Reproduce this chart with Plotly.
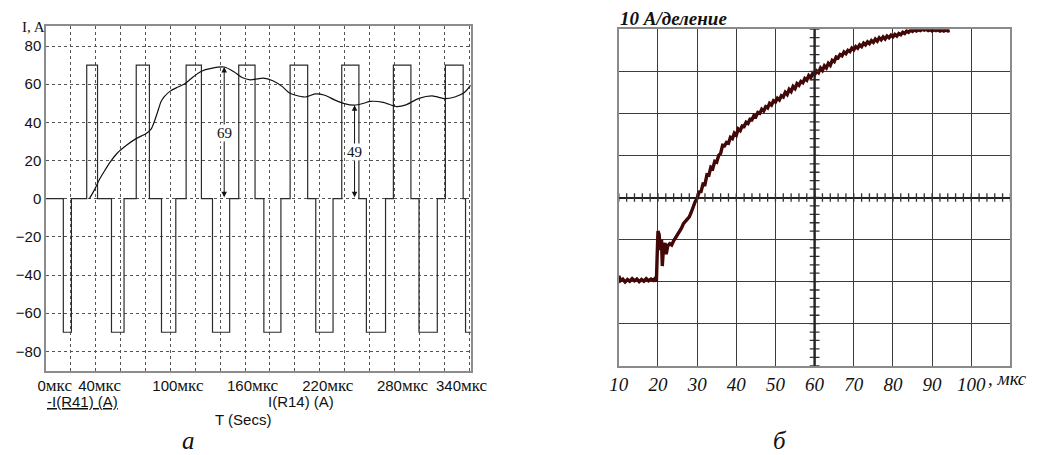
import numpy as np
import plotly.graph_objects as go

# ---------------- panel "а": simulated currents ----------------
# switching pulses of -I(R41): (start, end) in microseconds
neg_pulses = [(13.9, 20.4), (52.6, 62.7), (92.8, 104.3), (133.8, 147.6), (175.1, 188.8),
              (216.8, 230.7), (257.5, 272.9), (299.8, 314.5), (337.2, 345.0)]
pos_pulses = [(32.7, 41.4), (72.5, 83.1), (112.6, 124.9), (154.9, 168.0),
              (196.2, 210.3), (237.7, 251.5), (279.2, 293.3), (321.0, 335.3)]
pulse_level = 70

# load current I(R14)
load_t = [34.8, 38.8, 42.7, 46.6, 51.8, 57.0, 64.9, 72.7, 80.5, 84.4, 87.0, 89.7, 92.3,
          94.9, 100.1, 106.0, 111.9, 118.4, 124.9, 132.8, 143.2, 151.0, 157.5, 164.1,
          170.0, 174.5, 182.3, 190.2, 195.4, 200.6, 208.4, 216.3, 224.1, 231.9, 239.8,
          248.0, 255.4, 260.7, 271.1, 281.6, 289.4, 299.8, 310.3, 320.7, 328.6, 336.0, 341.3]
load_i = [0.0, 4.5, 9.8, 14.1, 19.4, 23.7, 28.1, 31.6, 34.2, 36.4, 40.3, 45.5, 50.7,
          53.4, 56.5, 58.5, 60.4, 63.9, 66.8, 68.3, 69.0, 66.5, 63.5, 62.3,
          62.8, 63.2, 61.8, 58.6, 55.5, 54.2, 53.3, 54.9, 54.2, 51.8, 49.8,
          49.0, 50.0, 51.0, 50.5, 48.3, 49.2, 52.6, 53.9, 52.4, 53.3, 55.5, 59.5]

# dimensioned values of the load current
marked_t = [143.2, 248.0]
marked_i = [69, 49]

time_tick_pos = [7, 43, 106, 166, 226.5, 286.5, 334]
time_tick_text = ["0", "40", "100", "160", "220", "280", "340"]

# ---------------- panel "б": measured current ----------------
meas_t = [10.0, 10.4, 11.0, 11.6, 12.2, 12.8, 13.4, 14.0, 14.6, 15.2, 15.8, 16.4, 17.0, 17.6,
          18.2, 18.8, 19.3, 19.6, 19.8, 20.0, 20.3, 20.6, 20.9, 21.1, 21.4, 21.8, 22.1, 22.5,
          23.0, 23.5, 24.0, 24.5, 25.0, 25.5, 26.0, 26.5, 27.0, 27.5, 28.0, 28.5, 29.0, 29.5,
          30.0, 30.5, 31.0, 31.5, 32.0, 32.5, 33.0, 33.5, 34.0, 34.5, 35.0, 35.5, 36.0, 36.5,
          37.0, 37.5, 38.0, 38.5, 39.0, 39.5, 40.0, 40.5, 41.0, 41.5, 42.0, 42.5, 43.0, 43.5,
          44.0, 44.5, 45.0, 45.5, 46.0, 46.5, 47.0, 47.5, 48.0, 48.5, 49.0, 49.5, 50.0, 50.5,
          51.0, 51.5, 52.0, 52.5, 53.0, 53.5, 54.0, 54.5, 55.0, 55.5, 56.0, 56.5, 57.0, 57.5,
          58.0, 58.5, 59.0, 59.5, 60.0, 60.5, 61.0, 61.5, 62.0, 62.5, 63.0, 63.5, 64.0, 64.5,
          65.0, 65.5, 66.0, 66.5, 67.0, 67.5, 68.0, 68.5, 69.0, 69.5, 70.0, 70.5, 71.0, 71.5,
          72.0, 72.5, 73.0, 73.5, 74.0, 74.5, 75.0, 75.5, 76.0, 76.5, 77.0, 77.5, 78.0, 78.5,
          79.0, 79.5, 80.0, 80.5, 81.0, 81.5, 82.0, 82.5, 83.0, 83.5, 84.0, 84.5, 85.0, 85.5,
          86.0, 86.5, 87.0, 87.5, 88.0, 88.5, 89.0, 89.5, 90.0, 90.5, 91.0, 91.5, 92.0, 92.5,
          93.0, 93.5, 94.0, 94.5]
meas_i = [-18.6, -19.8, -19.4, -20.1, -19.5, -19.9, -19.3, -19.8, -19.4, -20.0, -19.5, -19.9, -19.3, -19.8,
          -19.4, -19.7, -19.2, -20.0, -13.5, -8.0, -8.8, -12.5, -10.0, -16.3, -12.0, -10.8, -13.5, -11.5,
          -11.0, -11.3, -10.3, -9.5, -9.0, -8.0, -7.3, -6.2, -5.6, -5.3, -4.6, -3.5, -2.0, -1.0,
          -0.2, 1.3, 1.4, 3.2, 3.1, 5.4, 5.3, 7.2, 6.9, 8.6, 8.4, 10.0, 10.5, 12.4,
          12.3, 13.1, 12.9, 14.3, 14.0, 15.3, 14.8, 16.3, 15.9, 17.0, 16.9, 17.9, 17.6, 18.6,
          18.5, 19.5, 19.2, 20.2, 20.0, 21.0, 20.6, 21.6, 21.3, 22.4, 22.0, 23.0, 22.7, 23.6,
          23.2, 24.2, 23.9, 25.0, 24.5, 25.7, 25.2, 26.4, 25.9, 27.1, 26.7, 27.6, 27.3, 28.3,
          27.9, 29.0, 28.5, 29.5, 29.2, 30.1, 29.7, 30.8, 30.2, 31.3, 30.8, 31.9, 31.4, 32.6,
          32.3, 33.4, 33.2, 34.0, 33.7, 34.6, 34.2, 35.0, 34.7, 35.5, 35.1, 35.9, 35.5, 36.3,
          35.9, 36.7, 36.3, 37.0, 36.6, 37.3, 36.9, 37.7, 37.2, 38.0, 37.5, 38.2, 37.7, 38.4,
          38.0, 38.6, 38.2, 38.8, 38.4, 39.0, 38.7, 39.3, 39.0, 39.6, 39.3, 39.8, 39.5, 39.9,
          39.6, 39.9, 39.7, 40.0, 39.8, 40.0, 39.7, 39.9, 39.6, 39.9, 39.7, 39.9, 39.6, 39.8,
          39.6, 39.9, 39.6, 39.7]

div_values = [10, 20, 30, 40, 50, 60, 70, 80, 90, 100]
div_labels = ["10", "20", "30", "40", "50", "60", "70", "80", "90", "100"]

SANS = "Liberation Sans, Arial, sans-serif"
SERIF = "Liberation Serif, Times New Roman, serif"

# step waveform of the switching pulses
pulses = sorted([(s, e, -pulse_level) for s, e in neg_pulses] +
                [(s, e, pulse_level) for s, e in pos_pulses])
pulse_t, pulse_i = [0.0], [0.0]
for s, e, lvl in pulses:
    pulse_t += [s, s, e, e]
    pulse_i += [0, lvl, lvl, 0]

fig = go.Figure()

fig.add_trace(go.Scatter(x=pulse_t, y=pulse_i, mode="lines", xaxis="x", yaxis="y",
                         line=dict(color="#2b2b2b", width=1.2), hoverinfo="skip"))
fig.add_trace(go.Scatter(x=load_t, y=load_i, mode="lines", xaxis="x", yaxis="y",
                         line=dict(color="#111111", width=1.2, shape="spline", smoothing=0.7),
                         hoverinfo="skip"))

# double-headed dimension arrows with their values
for t, v in zip(marked_t, marked_i):
    fig.add_annotation(x=t, y=v, ax=t, ay=0, xref="x", yref="y", axref="x", ayref="y",
                       text="", showarrow=True, arrowhead=2, arrowside="end+start",
                       arrowsize=1.1, arrowwidth=1, arrowcolor="#111")
    fig.add_annotation(x=t, y=v / 2, xref="x", yref="y", text=str(v), showarrow=False,
                       bgcolor="white", borderpad=0,
                       font=dict(family=SERIF, size=15, color="#111"))

# measured trace on the oscilloscope grid
fig.add_trace(go.Scatter(x=meas_t, y=meas_i, mode="lines", xaxis="x2", yaxis="y2",
                         line=dict(color="#420808", width=3.4), hoverinfo="skip"))

# scale marks on the centre lines of the screen
h_marks = np.arange(10, 110.01, 2)
v_marks = np.arange(-40, 40.01, 2)
fig.add_trace(go.Scatter(x=h_marks, y=np.zeros_like(h_marks), mode="markers",
                         xaxis="x2", yaxis="y2", hoverinfo="skip",
                         marker=dict(symbol="line-ns", size=6, line=dict(width=1.3, color="#333"))))
fig.add_trace(go.Scatter(x=np.full_like(v_marks, 60.0), y=v_marks, mode="markers",
                         xaxis="x2", yaxis="y2", hoverinfo="skip",
                         marker=dict(symbol="line-ew", size=7, line=dict(width=1.3, color="#333"))))
fig.add_shape(type="line", xref="x2", yref="y2 domain", x0=60, x1=60, y0=0, y1=1,
              line=dict(color="#222", width=2.4))

W, H = 1043, 455
grid_dash = "3px,3px"
mks = "<span style='font-family:Liberation Serif;font-size:17px'>мкс</span>"

fig.update_layout(
    width=W, height=H, margin=dict(l=0, r=0, t=0, b=0),
    paper_bgcolor="white", plot_bgcolor="white", showlegend=False,
    xaxis=dict(domain=[37 / W, 473 / W], range=[0, 341.4], anchor="y",
               tickmode="array", tickvals=time_tick_pos,
               ticktext=[s + mks for s in time_tick_text],
               showgrid=False, ticks="", zeroline=False,
               tickfont=dict(family=SANS, size=15, color="#111"),
               minor=dict(tickmode="linear", tick0=0, dtick=20, showgrid=True,
                          gridcolor="#555", gridwidth=1, griddash=grid_dash, ticks=""),
               showline=True, mirror=True, linecolor="#8c8c8c", linewidth=1.6),
    yaxis=dict(domain=[1 - 371 / H, 1 - 26 / H], range=[-90.3, 90.5], anchor="x",
               tickmode="array", tickvals=[-80, -60, -40, -20, 0, 20, 40, 60, 80],
               showgrid=True, gridcolor="#555", gridwidth=1, griddash=grid_dash,
               zeroline=False, ticks="",
               tickfont=dict(family=SANS, size=15, color="#111"),
               showline=True, mirror=True, linecolor="#8c8c8c", linewidth=1.6),
    xaxis2=dict(domain=[625 / W, 1027 / W], range=[10, 110], anchor="y2",
                tickmode="array", tickvals=div_values,
                ticktext=["<i>" + s + "</i>" for s in div_labels],
                showgrid=True, gridcolor="#3c3c3c", gridwidth=1.3, zeroline=False, ticks="",
                tickfont=dict(family=SERIF, size=19, color="#111"),
                showline=True, mirror=True, linecolor="#8a8a8a", linewidth=2),
    yaxis2=dict(domain=[1 - 365.7 / H, 1 - 29.3 / H], range=[-40, 40], anchor="x2",
                dtick=10, showgrid=True, gridcolor="#3c3c3c", gridwidth=1.3,
                zeroline=True, zerolinecolor="#222", zerolinewidth=2.4,
                showticklabels=False, ticks="",
                showline=True, mirror=True, linecolor="#8a8a8a", linewidth=2),
)

texts = [
    dict(x=10 / W, y=1 - 27 / H, text="I, A", font=dict(family=SERIF, size=15), xanchor="left"),
    dict(x=36 / W, y=1 - 401 / H, text="<u>-I(R41) (A)</u>", font=dict(family=SANS, size=15),
         xanchor="left"),
    dict(x=263 / W, y=1 - 401 / H, text="I(R14) (A)", font=dict(family=SANS, size=15),
         xanchor="left"),
    dict(x=208 / W, y=1 - 419 / H, text="T (Secs)", font=dict(family=SANS, size=15),
         xanchor="left"),
    dict(x=624 / W, y=1 - 19 / H, text="<b><i>10 А/деление</i></b>",
         font=dict(family=SERIF, size=19), xanchor="left"),
    dict(x=1002 / W, y=1 - 378 / H, text="<i>, мкс</i>", font=dict(family=SERIF, size=19),
         xanchor="left"),
    dict(x=183 / W, y=1 - 440 / H, text="<i>а</i>", font=dict(family=SERIF, size=25),
         xanchor="center"),
    dict(x=790 / W, y=1 - 440 / H, text="<i>б</i>", font=dict(family=SERIF, size=25),
         xanchor="center"),
]
for t in texts:
    t["font"]["color"] = "#111"
    fig.add_annotation(xref="paper", yref="paper", showarrow=False, yanchor="middle", **t)

fig.write_html("out.html")
